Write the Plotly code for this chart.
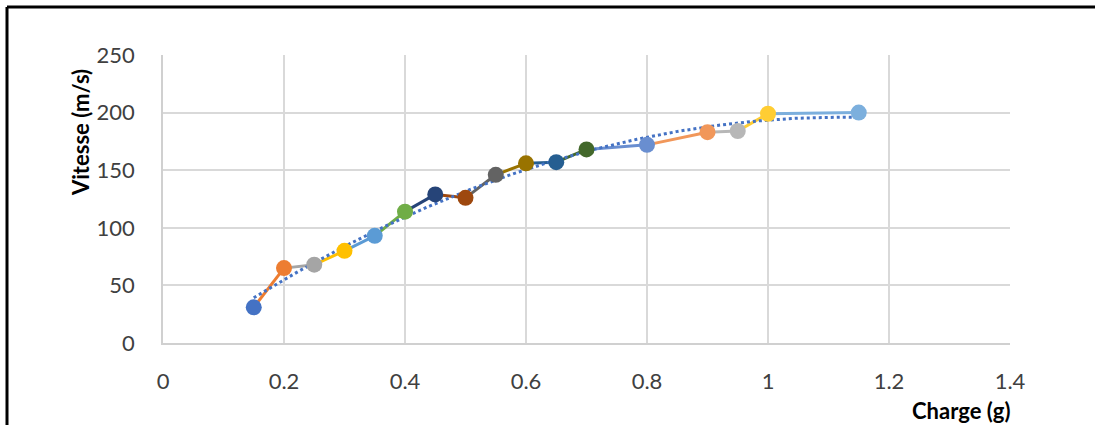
import numpy as np
import plotly.graph_objects as go

charge = [0.15, 0.2, 0.25, 0.3, 0.35, 0.4, 0.45, 0.5, 0.55, 0.6, 0.65, 0.7, 0.8, 0.9, 0.95, 1.0, 1.15]
vitesse = [31, 65, 68, 80, 93, 114, 129, 126, 146, 156, 157, 168, 172, 183, 184, 199, 200]
colors = ["#4472C4", "#ED7D31", "#A5A5A5", "#FFC000", "#5B9BD5", "#70AD47",
          "#264478", "#9E480E", "#636363", "#997300", "#255E91", "#43682B",
          "#698ED0", "#F1975A", "#B7B7B7", "#FFCD33", "#7CAFDD"]
x_ticks = [0, 0.2, 0.4, 0.6, 0.8, 1, 1.2, 1.4]
y_ticks = [0, 50, 100, 150, 200, 250]

FONT = "Lato"
fig = go.Figure()

# segments, each colored like its end point
for i in range(1, len(charge)):
    fig.add_trace(go.Scatter(x=[charge[i-1], charge[i]], y=[vitesse[i-1], vitesse[i]],
                             mode="lines", line=dict(color=colors[i], width=3),
                             showlegend=False, hoverinfo="skip"))

# polynomial trendline (order 2) from the data
coef = np.polyfit(charge, vitesse, 2)
xt = np.linspace(min(charge), max(charge), 200)
yt = np.polyval(coef, xt)
fig.add_trace(go.Scatter(x=xt, y=yt, mode="lines",
                         line=dict(color="#4472C4", width=3, dash="dot"),
                         showlegend=False, hoverinfo="skip"))

fig.add_trace(go.Scatter(x=charge, y=vitesse, mode="markers",
                         marker=dict(color=colors, size=16, line=dict(width=0)),
                         showlegend=False))

L, R, T, B = 163, 85, 55, 82
W, H = 1095, 425
pw, ph = W - L - R, H - T - B

fig.update_layout(
    width=W, height=H,
    margin=dict(l=L, r=R, t=T, b=B),
    paper_bgcolor="white", plot_bgcolor="white",
    font=dict(family=FONT, size=22, color="#404040"),
    xaxis=dict(range=[0, 1.4], tickvals=x_ticks, ticktext=[f"{v:g}" for v in x_ticks],
               showgrid=True, gridcolor="#D9D9D9", gridwidth=1.5,
               zeroline=False, showline=True, linecolor="#D0D0D0", linewidth=1.5,
               ticks="outside", ticklen=18, tickcolor="rgba(0,0,0,0)",
               tickfont=dict(family=FONT, size=22, color="#404040")),
    yaxis=dict(range=[0, 250], tickvals=y_ticks,
               showgrid=True, gridcolor="#D9D9D9", gridwidth=1.5,
               zeroline=False, showline=True, linecolor="#D0D0D0", linewidth=1.5,
               ticks="outside", ticklen=22, tickcolor="rgba(0,0,0,0)",
               tickfont=dict(family=FONT, size=22, color="#404040")),
    annotations=[
        dict(text="<b>Vitesse (m/s)</b>", x=(80 - L) / pw, y=(H - B - 133) / ph,
             xref="paper", yref="paper", textangle=-90, showarrow=False,
             xanchor="center", yanchor="middle",
             font=dict(family=FONT, size=22, color="#000000")),
        dict(text="<b>Charge (g)</b>", x=(961 - L) / pw, y=(H - B - 410) / ph,
             xref="paper", yref="paper", showarrow=False,
             xanchor="center", yanchor="middle",
             font=dict(family=FONT, size=22, color="#000000")),
    ],
    shapes=[
        dict(type="line", xref="paper", yref="paper",
             x0=(7 - L) / pw, x1=(W + 5 - L) / pw,
             y0=(H - B - 7) / ph, y1=(H - B - 7) / ph,
             line=dict(color="black", width=3)),
        dict(type="line", xref="paper", yref="paper",
             x0=(7 - L) / pw, x1=(7 - L) / pw,
             y0=(H - B - 7) / ph, y1=(H - B - 430) / ph,
             line=dict(color="black", width=3)),
    ],
)

fig.write_html("out.html", config={"displayModeBar": False},
               post_script="document.body.style.margin='0';")
